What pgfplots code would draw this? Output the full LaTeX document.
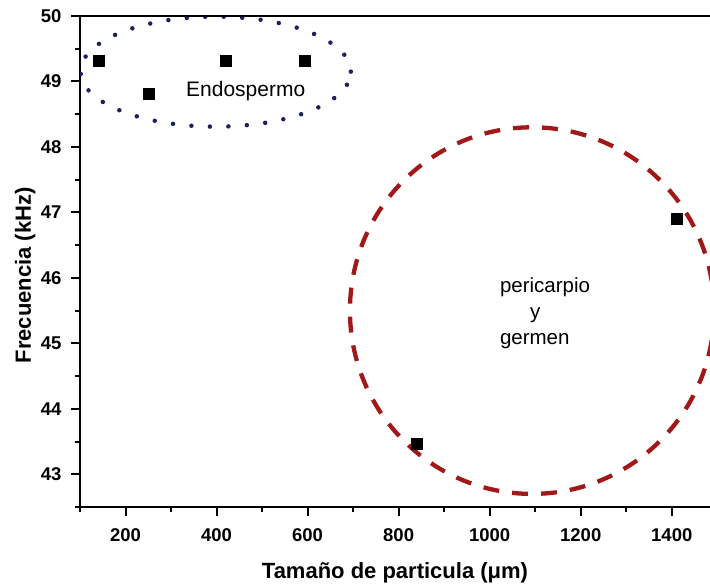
\documentclass[border=0pt]{standalone}
\usepackage{pgfplots}
\pgfplotsset{compat=1.18}
\usepackage{fontspec}
\setmainfont{Liberation Sans}
\definecolor{navyd}{HTML}{1C2060}
\definecolor{darkred}{HTML}{A01818}
\begin{document}
\begin{tikzpicture}
\begin{axis}[
  scale only axis, width=630pt, height=491pt,
  xmin=100, xmax=1484, ymin=42.5, ymax=50,
  axis x line*=bottom, axis y line*=left,
  xtick={200,400,...,1400}, minor xtick={100,300,...,1500},
  ytick={43,44,...,50}, minor ytick={42.5,43.5,...,49.5},
  tick align=outside, major tick length=9pt, minor tick length=5pt,
  every tick/.style={black, line width=2pt},
  axis line style={line width=2.5pt},
  ticklabel style={font=\fontsize{18.5}{18.5}\selectfont\bfseries},
  xticklabel style={yshift=-9pt},
  yticklabel style={xshift=-6pt},
  /pgf/number format/assume math mode=true,
  /pgf/number format/1000 sep={},
  xlabel={Tamaño de particula (μm)},
  ylabel={Frecuencia (kHz)},
  label style={font=\fontsize{22}{22}\selectfont\bfseries},
  xlabel style={at={(rel axis cs:0.5,0)}, anchor=north, yshift=-52pt},
  ylabel style={at={(rel axis cs:0,0.472)}, anchor=south, yshift=41pt},
  clip=true,
]
\addplot[only marks, mark=square*, mark size=5.5pt, black] coordinates {
  (140,49.31) (251,48.82) (421,49.31) (594,49.31) (840,43.46) (1410,46.90)
};
\draw[navyd, line width=4.5pt, line cap=round, dash pattern=on 0pt off 18.5pt]
  (axis cs:398,49.15) ellipse [x radius=297, y radius=0.84];
\draw[darkred, line width=4.3pt, dash pattern=on 16pt off 13pt]
  (axis cs:1093,45.5) ellipse [x radius=400, y radius=2.8];
\node[font=\fontsize{21}{21}\selectfont] at (axis cs:464,48.85) {Endospermo};
\node[font=\fontsize{20.5}{26}\selectfont, align=left, anchor=north west] at (axis cs:1015,46.05) {pericarpio\\\hspace*{30pt}y\\germen};
\end{axis}
\draw[line width=2.5pt] (current axis.north west) -- (current axis.north east);
\pgfresetboundingbox
\useasboundingbox ([xshift=-80pt,yshift=-81pt]current axis.south west) rectangle ([yshift=16pt]current axis.north east);
\end{tikzpicture}
\end{document}
